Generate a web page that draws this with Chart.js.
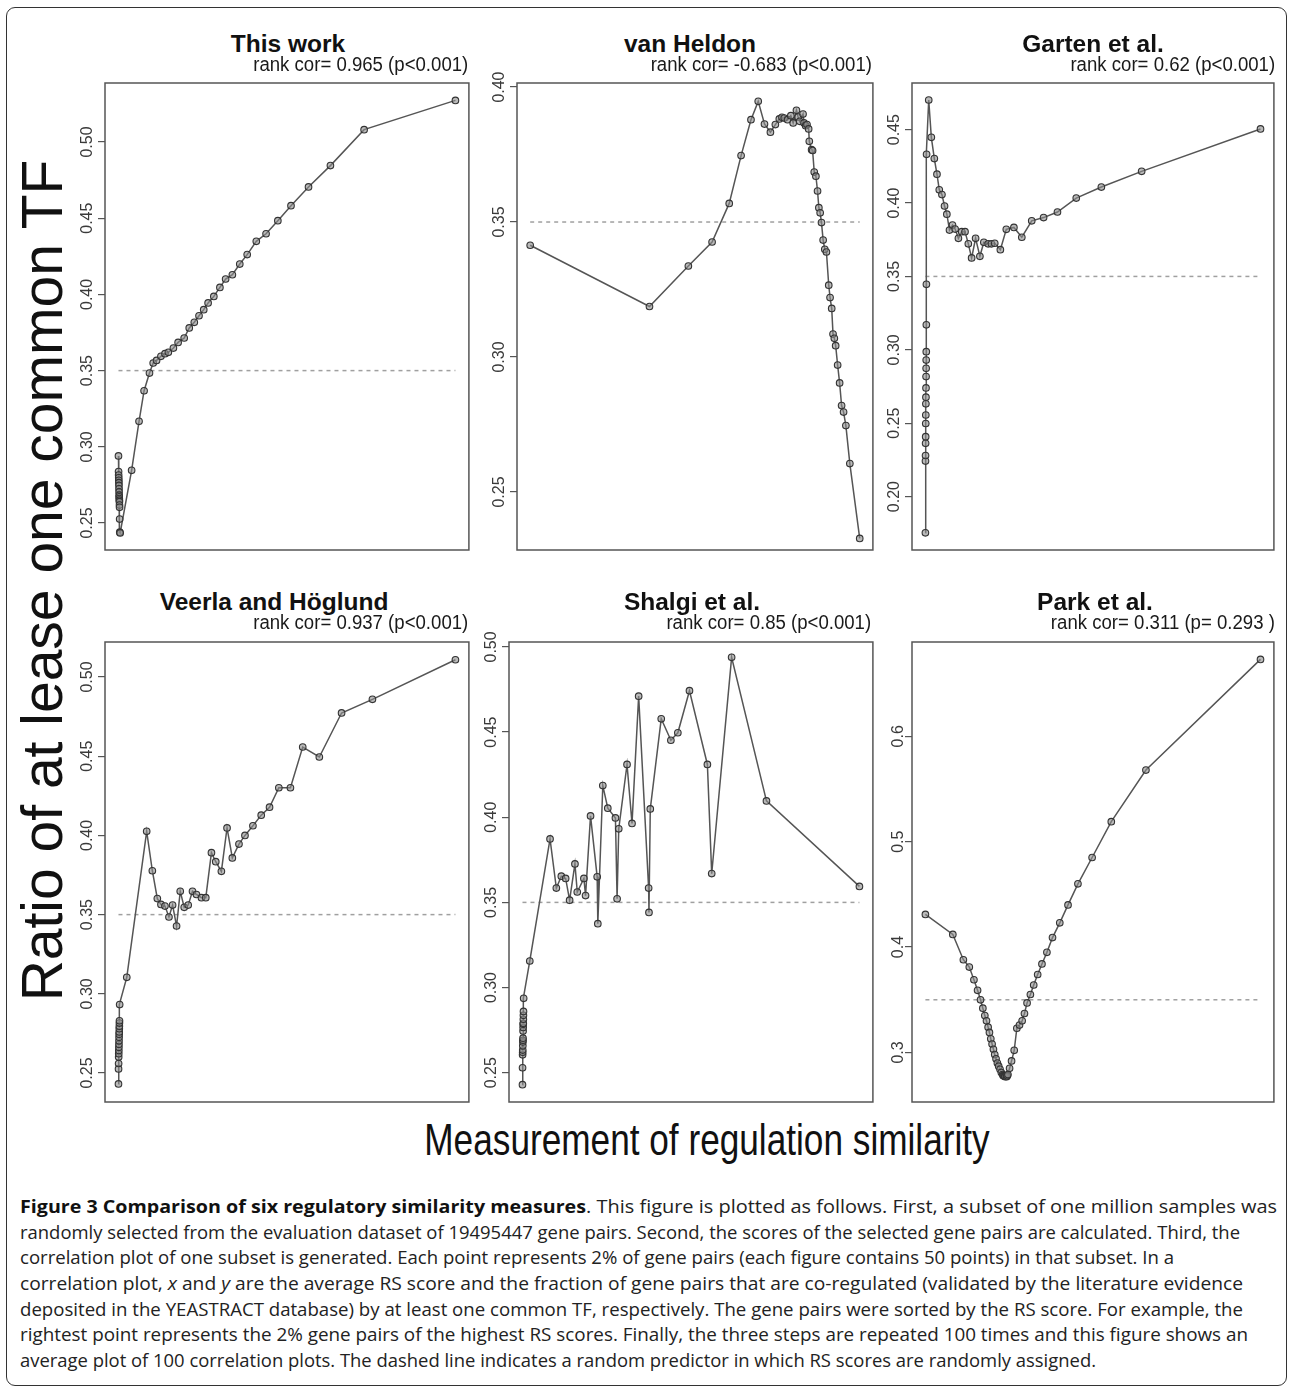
<!DOCTYPE html>
<html>
<head>
<meta charset="utf-8">
<script src="https://cdn.jsdelivr.net/npm/chart.js@4.4.0/dist/chart.umd.min.js"></script>
<style>
  html, body { margin: 0; padding: 0; background: #fff; }
  body { width: 1292px; height: 1392px; position: relative; overflow: hidden; font-family: "Liberation Sans", Arial, sans-serif; }
  #frame { position: absolute; left: 6px; top: 7px; width: 1281px; height: 1379px; border: 1.5px solid #333; border-radius: 9px; box-sizing: border-box; }
  canvas { position: absolute; }
  .title { position: absolute; font-weight: bold; font-size: 24.5px; line-height: 24px; color: #111; white-space: nowrap; transform: translateX(-50%); }
  .sub { position: absolute; font-size: 20px; line-height: 20px; color: #1a1a1a; white-space: nowrap; transform-origin: right top; transform: scaleX(0.93); }
  #ylab { position: absolute; left: -408px; top: 552px; width: 900px; height: 57px; line-height: 57px; font-size: 57px; text-align: center; color: #111; transform: rotate(-90deg); white-space: nowrap; }
  #xlab { position: absolute; left: 307px; top: 1118px; width: 800px; font-size: 44px; line-height: 44px; text-align: center; color: #111; transform: scaleX(0.8); white-space: nowrap; }
  #caption { position: absolute; left: 0; top: 1194px; width: 1292px; font-family: "Open Sans", "Noto Sans", sans-serif; font-size: 18px; color: #222; }
  #caption div { position: relative; height: 25.7px; line-height: 25.7px; }
  #caption span { position: absolute; top: 0; white-space: nowrap; transform-origin: left center; }
  #caption span.b { font-weight: bold; color: #111; }
</style>
</head>
<body>
<div id="frame"></div>
<div id="ylab">Ratio of at lease one common TF</div>
<div id="xlab">Measurement of regulation similarity</div>
<div id="panels"></div>
<div id="caption">
  <div><span class="b" data-x0="20" data-x1="586">Figure 3 Comparison of six regulatory similarity measures</span><span data-x0="586" data-x1="1277">. This figure is plotted as follows. First, a subset of one million samples was</span></div>
  <div><span data-x0="20" data-x1="1240">randomly selected from the evaluation dataset of 19495447 gene pairs. Second, the scores of the selected gene pairs are calculated. Third, the</span></div>
  <div><span data-x0="20" data-x1="1174">correlation plot of one subset is generated. Each point represents 2% of gene pairs (each figure contains 50 points) in that subset. In a</span></div>
  <div><span data-x0="20" data-x1="1243">correlation plot, <i>x</i> and <i>y</i> are the average RS score and the fraction of gene pairs that are co-regulated (validated by the literature evidence</span></div>
  <div><span data-x0="20" data-x1="1243">deposited in the YEASTRACT database) by at least one common TF, respectively. The gene pairs were sorted by the RS score. For example, the</span></div>
  <div><span data-x0="20" data-x1="1248">rightest point represents the 2% gene pairs of the highest RS scores. Finally, the three steps are repeated 100 times and this figure shows an</span></div>
  <div><span data-x0="20" data-x1="1096">average plot of 100 correlation plots. The dashed line indicates a random predictor in which RS scores are randomly assigned.</span></div>
</div>

<script>
// relative RS score (0 = lowest bin, 1 = highest bin) and fraction co-regulated
const thisWorkX = [0, 0.0003, 0.0005, 0.0008, 0.001, 0.0012, 0.0014, 0.0016, 0.0018, 0.002, 0.0022, 0.0024, 0.0026, 0.0028, 0.003, 0.0032, 0.0035, 0.0038, 0.005,
  0.039, 0.061, 0.076, 0.092, 0.103, 0.113, 0.126, 0.138, 0.148, 0.163, 0.177, 0.195, 0.210, 0.225, 0.239, 0.253, 0.266, 0.283, 0.301, 0.318, 0.338, 0.360, 0.382, 0.409, 0.438, 0.473, 0.512, 0.564, 0.629, 0.729, 1.0];
const thisWorkY = [0.294, 0.2838, 0.2815, 0.2797, 0.278, 0.2765, 0.2747, 0.2725, 0.2704, 0.2683, 0.2672, 0.2661, 0.265, 0.264, 0.2618, 0.2603, 0.2526, 0.244, 0.2435,
  0.2846, 0.3167, 0.3368, 0.3484, 0.355, 0.3567, 0.3594, 0.3611, 0.362, 0.3648, 0.3685, 0.3714, 0.378, 0.3817, 0.386, 0.39, 0.3944, 0.3987, 0.4046, 0.4101, 0.4129, 0.4199, 0.4261, 0.4348, 0.4398, 0.4484, 0.4582, 0.4705, 0.4845, 0.5081, 0.5273];

const vanHeldonX = [0, 0.362, 0.480, 0.552, 0.604, 0.640, 0.670, 0.692, 0.711, 0.729, 0.744, 0.756, 0.764, 0.771, 0.781, 0.791, 0.798, 0.808, 0.813, 0.818,
  0.828, 0.831, 0.836, 0.840, 0.845, 0.847, 0.854, 0.857, 0.862, 0.867, 0.872, 0.876, 0.880, 0.884, 0.889, 0.894, 0.899, 0.906, 0.910, 0.915,
  0.919, 0.923, 0.927, 0.933, 0.939, 0.945, 0.951, 0.958, 0.970, 1.0];
const vanHeldonY = [0.3414, 0.3187, 0.3337, 0.3426, 0.3569, 0.3746, 0.3879, 0.3947, 0.3863, 0.3833, 0.3861, 0.3882, 0.3888, 0.3885, 0.3879, 0.3894, 0.3867, 0.3914, 0.3889, 0.3873,
  0.3900, 0.3867, 0.3857, 0.3861, 0.3845, 0.3799, 0.3768, 0.3765, 0.3685, 0.3670, 0.3615, 0.3553, 0.3534, 0.3498, 0.3433, 0.3399, 0.3389, 0.3266, 0.3220, 0.3180,
  0.3085, 0.3069, 0.3042, 0.2970, 0.2904, 0.2820, 0.2796, 0.2746, 0.2605, 0.2328];

const gartenX = [0, 0.0002, 0.0004, 0.0006, 0.0008, 0.001, 0.0012, 0.0014, 0.0016, 0.0018, 0.002, 0.0022, 0.0024, 0.0026, 0.0028, 0.003, 0.0035,
  0.0099, 0.0177, 0.0266, 0.0345, 0.0414, 0.0493, 0.0571, 0.0640, 0.0719, 0.0808, 0.0887, 0.0985, 0.1084, 0.1182, 0.1281, 0.1379, 0.1498, 0.1626, 0.1744, 0.1872,
  0.1970, 0.2069, 0.2237, 0.2414, 0.2641, 0.2877, 0.3173, 0.3527, 0.3941, 0.4502, 0.5251, 0.6453, 1.0];
const gartenY = [0.1753, 0.2242, 0.2280, 0.2363, 0.2408, 0.2498, 0.2556, 0.2632, 0.2677, 0.2740, 0.2818, 0.2874, 0.2930, 0.2987, 0.3170, 0.3446, 0.4332,
  0.4702, 0.4448, 0.4303, 0.4197, 0.4090, 0.4058, 0.3980, 0.3924, 0.3816, 0.3850, 0.3823, 0.3760, 0.3805, 0.3805, 0.3722, 0.3626, 0.3760, 0.3637, 0.3733, 0.3722,
  0.3722, 0.3726, 0.3682, 0.3821, 0.3834, 0.3767, 0.3879, 0.3901, 0.3939, 0.4034, 0.4109, 0.4216, 0.4505];

const veerlaX = [0, 0.0002, 0.0004, 0.0006, 0.0008, 0.001, 0.0012, 0.0014, 0.0016, 0.0018, 0.002, 0.0022, 0.0024, 0.0026, 0.0028, 0.003, 0.0035,
  0.0246, 0.0837, 0.1005, 0.1153, 0.1261, 0.1379, 0.1498, 0.1606, 0.1724, 0.1833, 0.1951, 0.2069, 0.2197, 0.2315, 0.2463, 0.2591, 0.2759, 0.2887, 0.3054, 0.3222,
  0.3379, 0.3576, 0.3754, 0.3990, 0.4236, 0.4483, 0.4759, 0.5103, 0.5468, 0.5961, 0.6621, 0.7537, 1.0];
const veerlaY = [0.2431, 0.2526, 0.2560, 0.2601, 0.2622, 0.2642, 0.2662, 0.2682, 0.2703, 0.2725, 0.2745, 0.2759, 0.2780, 0.2796, 0.2815, 0.2830, 0.2932,
  0.3104, 0.4026, 0.3777, 0.3601, 0.3564, 0.3554, 0.3485, 0.3560, 0.3428, 0.3647, 0.3546, 0.3560, 0.3647, 0.3627, 0.3607, 0.3607, 0.3891, 0.3834, 0.3773, 0.4047,
  0.3858, 0.3945, 0.4000, 0.4061, 0.4128, 0.4178, 0.4301, 0.4301, 0.4558, 0.4495, 0.4773, 0.4859, 0.5109];

const shalgiX = [0, 0.0002, 0.0004, 0.0006, 0.0008, 0.001, 0.0012, 0.0014, 0.0016, 0.0018, 0.002, 0.0022, 0.0024, 0.0026, 0.0028, 0.003, 0.0035,
  0.0217, 0.0818, 0.1005, 0.1153, 0.1281, 0.1399, 0.1557, 0.1626, 0.1823, 0.1872, 0.2020, 0.2217, 0.2236, 0.2384, 0.2532, 0.2759, 0.2808, 0.2857, 0.3103, 0.3251,
  0.3448, 0.3744, 0.3754, 0.3793, 0.4118, 0.4404, 0.4611, 0.4956, 0.5488, 0.5616, 0.6207, 0.7241, 1.0];
const shalgiY = [0.2430, 0.2529, 0.2605, 0.2620, 0.2633, 0.2658, 0.2681, 0.2690, 0.2703, 0.2745, 0.2766, 0.2785, 0.2790, 0.2814, 0.2837, 0.2860, 0.2937,
  0.3156, 0.3873, 0.3584, 0.3654, 0.3641, 0.3513, 0.3726, 0.3561, 0.3641, 0.3540, 0.4008, 0.3650, 0.3375, 0.4186, 0.4053, 0.3996, 0.3521, 0.3932, 0.4310, 0.3964,
  0.4711, 0.3584, 0.3441, 0.4049, 0.4578, 0.4452, 0.4496, 0.4743, 0.4310, 0.3669, 0.4939, 0.4096, 0.3594];

const parkX = [0, 0.0818, 0.1133, 0.1310, 0.1448, 0.1557, 0.1645, 0.1714, 0.1773, 0.1823, 0.1872, 0.1911, 0.1951, 0.1990, 0.2030, 0.2069, 0.2108, 0.2148, 0.2187, 0.2227,
  0.2266, 0.2305, 0.2325, 0.2345, 0.2365, 0.2384, 0.2424, 0.2443, 0.2463, 0.2512, 0.2571, 0.2650, 0.2729, 0.2808, 0.2887, 0.2956, 0.3034, 0.3133, 0.3232, 0.3350,
  0.3478, 0.3626, 0.3793, 0.4010, 0.4256, 0.4552, 0.4975, 0.5547, 0.6581, 1.0];
const parkY = [0.431, 0.412, 0.388, 0.381, 0.369, 0.359, 0.350, 0.342, 0.335, 0.330, 0.324, 0.319, 0.313, 0.308, 0.303, 0.298, 0.294, 0.290, 0.287, 0.284,
  0.281, 0.279, 0.278, 0.278, 0.2775, 0.277, 0.277, 0.278, 0.279, 0.285, 0.292, 0.302, 0.323, 0.326, 0.330, 0.337, 0.347, 0.355, 0.364, 0.374,
  0.384, 0.395, 0.409, 0.423, 0.440, 0.460, 0.485, 0.519, 0.568, 0.673];

const randomLevel = 0.35;

const ticks5 = [0.25, 0.30, 0.35, 0.40, 0.45, 0.50];
const ticksVanHeldon = [0.25, 0.30, 0.35, 0.40];
const ticksGarten = [0.20, 0.25, 0.30, 0.35, 0.40, 0.45];
const ticksPark = [0.3, 0.4, 0.5, 0.6];

const panelTitles = ['This work', 'van Heldon', 'Garten et al.', 'Veerla and Höglund', 'Shalgi et al.', 'Park et al.'];
const rankCorLabels = ['rank cor= 0.965 (p<0.001)', 'rank cor= -0.683 (p<0.001)', 'rank cor= 0.62 (p<0.001)',
                       'rank cor= 0.937 (p<0.001)', 'rank cor= 0.85 (p<0.001)', 'rank cor= 0.311 (p= 0.293 )'];

// panel layout: plot box in page pixels, y range of the box, title position
const panels = [
  { x: thisWorkX, y: thisWorkY, ticks: ticks5, dec: 2, box: [105, 83, 471, 550], yr: [0.2323, 0.5387], titleX: 288, titleY: 32, subR: 468, subY: 54 },
  { x: vanHeldonX, y: vanHeldonY, ticks: ticksVanHeldon, dec: 2, box: [517, 83, 875, 550], yr: [0.2285, 0.4015], titleX: 690, titleY: 32, subR: 872, subY: 54 },
  { x: gartenX, y: gartenY, ticks: ticksGarten, dec: 2, box: [912, 83, 1276, 550], yr: [0.1636, 0.4818], titleX: 1093, titleY: 32, subR: 1275, subY: 54 },
  { x: veerlaX, y: veerlaY, ticks: ticks5, dec: 2, box: [105, 642, 471, 1102], yr: [0.2317, 0.5221], titleX: 274, titleY: 590, subR: 468, subY: 612 },
  { x: shalgiX, y: shalgiY, ticks: ticks5, dec: 2, box: [509, 642, 875, 1102], yr: [0.2328, 0.5029], titleX: 692, titleY: 590, subR: 871, subY: 612 },
  { x: parkX, y: parkY, ticks: ticksPark, dec: 1, box: [912, 642, 1276, 1102], yr: [0.253, 0.6895], titleX: 1095, titleY: 590, subR: 1275, subY: 612 }
];

const AXIS_W = 40;
const PAD_V = 22;
const PAD_R = 3;

// R-style box around the plotting region
const boxPlugin = {
  id: 'plotBox',
  afterDraw(chart) {
    const { ctx, chartArea: a } = chart;
    ctx.save();
    ctx.strokeStyle = '#555';
    ctx.lineWidth = 1.5;
    ctx.strokeRect(a.left, a.top, a.right - a.left, a.bottom - a.top);
    ctx.restore();
  }
};

const holder = document.getElementById('panels');

panels.forEach(function(p, i) {
  const [l, t, r, b] = p.box;
  const canvas = document.createElement('canvas');
  canvas.width = (r - l) + AXIS_W + PAD_R;
  canvas.height = (b - t) + 2 * PAD_V;
  canvas.style.left = (l - AXIS_W) + 'px';
  canvas.style.top = (t - PAD_V) + 'px';
  holder.appendChild(canvas);

  const title = document.createElement('div');
  title.className = 'title';
  title.textContent = panelTitles[i];
  title.style.left = p.titleX + 'px';
  title.style.top = p.titleY + 'px';
  holder.appendChild(title);

  const sub = document.createElement('div');
  sub.className = 'sub';
  sub.textContent = rankCorLabels[i];
  sub.style.right = (1292 - p.subR) + 'px';
  sub.style.top = p.subY + 'px';
  holder.appendChild(sub);

  const points = p.x.map((xv, k) => ({ x: xv, y: p.y[k] }));
  const first = p.x[0], last = p.x[p.x.length - 1];

  new Chart(canvas, {
    type: 'scatter',
    data: {
      datasets: [
        {
          data: points,
          showLine: true,
          borderColor: '#555',
          borderWidth: 1.5,
          pointRadius: 3.3,
          pointBorderWidth: 1.1,
          pointBorderColor: '#333',
          pointBackgroundColor: 'rgba(140,140,140,0.6)',
          order: 0
        },
        {
          data: [{ x: first, y: randomLevel }, { x: last, y: randomLevel }],
          showLine: true,
          borderColor: '#a0a0a0',
          borderWidth: 1.5,
          borderDash: [4, 4],
          pointRadius: 0,
          order: 1
        }
      ]
    },
    options: {
      responsive: false,
      animation: false,
      layout: { padding: { top: PAD_V, right: PAD_R, bottom: PAD_V, left: 0 } },
      plugins: { legend: { display: false }, tooltip: { enabled: false } },
      scales: {
        x: { type: 'linear', min: -0.04, max: 1.04, display: false },
        y: {
          type: 'linear',
          min: p.yr[0],
          max: p.yr[1],
          afterFit: function(scale) { scale.width = AXIS_W; },
          afterBuildTicks: function(scale) { scale.ticks = p.ticks.map(v => ({ value: v })); },
          border: { display: false },
          grid: { drawOnChartArea: false, tickLength: 7, color: '#555', lineWidth: 1.2 },
          ticks: {
            autoSkip: false,
            minRotation: 90,
            maxRotation: 90,
            crossAlign: 'center',
            padding: -5,
            color: '#3a3a3a',
            font: { family: '"Liberation Sans", Arial, sans-serif', size: 16 },
            callback: v => v.toFixed(p.dec)
          }
        }
      }
    },
    plugins: [boxPlugin]
  });
});

// fit each caption segment to its printed extent
document.querySelectorAll('#caption span[data-x0]').forEach(function(s) {
  const x0 = +s.dataset.x0, x1 = +s.dataset.x1;
  const w = s.getBoundingClientRect().width;
  s.style.left = x0 + 'px';
  s.style.transform = 'scaleX(' + ((x1 - x0) / w) + ')';
});
</script>
</body>
</html>
